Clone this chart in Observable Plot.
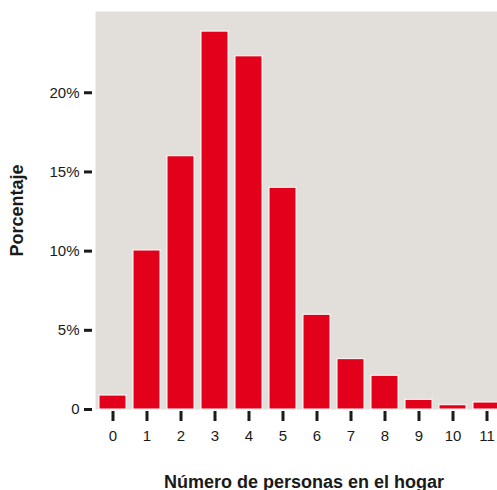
<!DOCTYPE html>
<html>
<head>
<meta charset="utf-8">
<script src="https://cdn.jsdelivr.net/npm/d3@7"></script>
<script src="https://cdn.jsdelivr.net/npm/@observablehq/plot@0.6"></script>
<style>
  html, body { margin: 0; padding: 0; background: white; overflow: hidden; }
</style>
</head>
<body>
<div id="chart"></div>
<script>
const categories = ["0", "1", "2", "3", "4", "5", "6", "7", "8", "9", "10", "11"];
const percentages = [0.88, 10.04, 15.99, 23.86, 22.3, 14.0, 5.98, 3.18, 2.13, 0.61, 0.27, 0.44];
const yTicks = [0, 5, 10, 15, 20];
const xTitle = "Número de personas en el hogar";
const yTitle = "Porcentaje";

const data = categories.map((c, i) => ({n: c, pct: percentages[i]}));

const chart = Plot.plot({
  width: 497,
  height: 490,
  marginLeft: 95,
  marginRight: 0,
  marginTop: 11,
  marginBottom: 81,
  style: {fontFamily: "'Liberation Sans', Arial, sans-serif", maxWidth: "none", background: "white", color: "#1a1a1a"},
  x: {type: "band", domain: categories, range: [95, 504.5], paddingInner: 0.2, paddingOuter: 0.1, label: null},
  y: {domain: [0, 25.13], label: null},
  marks: [
    Plot.frame({fill: "#e2dfda", stroke: null}),
    Plot.barY(data, {x: "n", y: "pct", fill: "#e2001a", stroke: "white", strokeWidth: 1}),
    Plot.axisY({ticks: yTicks, tickFormat: d => d === 0 ? "0" : d + "%", tickSize: 8, strokeWidth: 3, dx: -3, tickPadding: 5, fontSize: 15, label: null}),
    Plot.axisX({tickSize: 10, strokeWidth: 3, dy: 2, tickPadding: 9, fontSize: 15, label: null}),
    Plot.text([xTitle], {frameAnchor: "bottom", dx: 7.5, dy: 78, fontWeight: "bold", fontSize: 18}),
    Plot.text([yTitle], {frameAnchor: "left", textAnchor: "middle", rotate: -90, dx: -78, fontWeight: "bold", fontSize: 18})
  ]
});
document.getElementById("chart").append(chart);
</script>
</body>
</html>
